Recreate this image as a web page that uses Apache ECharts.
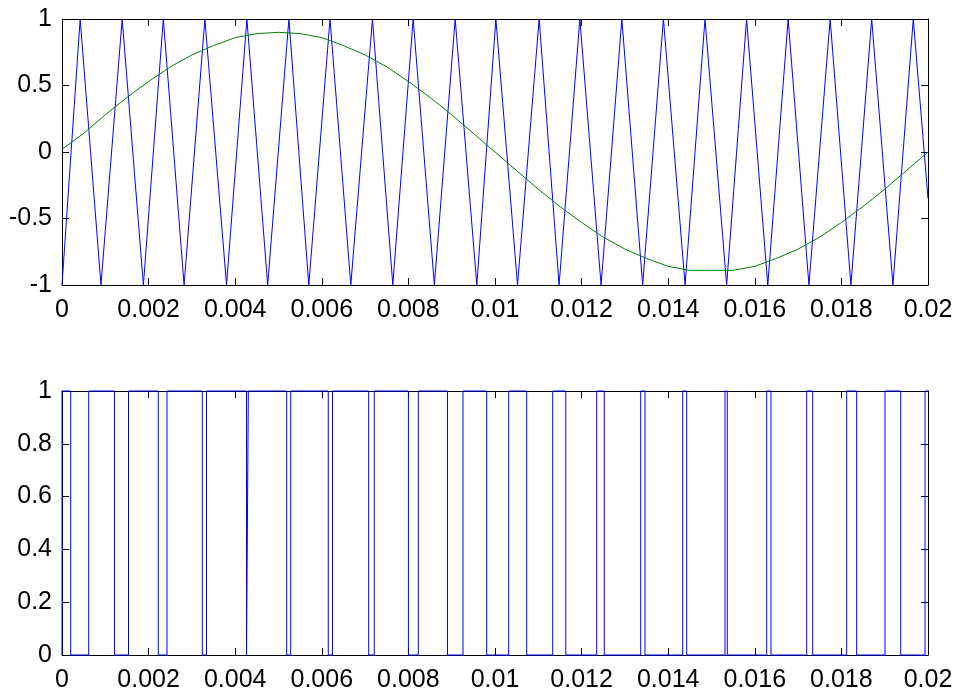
<!DOCTYPE html>
<html>
<head>
<meta charset="utf-8">
<script src="https://cdn.jsdelivr.net/npm/echarts@6/dist/echarts.min.js"></script>
<style>
  html, body { margin: 0; padding: 0; background: #fff; }
  #chart { width: 957px; height: 693px; }
</style>
</head>
<body>
<div id="chart"></div>
<script>
// carrier (triangle) vertices
const carrierT = [0, 0.00042, 0.00090, 0.00139, 0.00188, 0.00234, 0.00282, 0.00330, 0.00380, 0.00427,
  0.00475, 0.00524, 0.00570, 0.00619, 0.00667, 0.00717, 0.00764, 0.00811, 0.00860, 0.00908,
  0.00958, 0.01002, 0.01052, 0.01102, 0.01148, 0.01196, 0.01245, 0.01293, 0.01341, 0.01389,
  0.01439, 0.01485, 0.01535, 0.01581, 0.01630, 0.01677, 0.01725, 0.01774, 0.01822, 0.01870,
  0.01919, 0.01966, 0.02]
const carrierV = [-1, 1, -1, 1, -1, 1, -1, 1, -1, 1,
  -1, 1, -1, 1, -1, 1, -1, 1, -1, 1,
  -1, 1, -1, 1, -1, 1, -1, 1, -1, 1,
  -1, 1, -1, 1, -1, 1, -1, 1, -1, 1,
  -1, 1, -0.35]

// reference (green) curve, every 0.0005 s
const refT = [0, 0.0005, 0.001, 0.0015, 0.002, 0.0025, 0.003, 0.0035, 0.004, 0.0045,
  0.005, 0.0055, 0.006, 0.0065, 0.007, 0.0075, 0.008, 0.0085, 0.009, 0.0095,
  0.01, 0.0105, 0.011, 0.0115, 0.012, 0.0125, 0.013, 0.0135, 0.014, 0.0145,
  0.015, 0.0155, 0.016, 0.0165, 0.017, 0.0175, 0.018, 0.0185, 0.019, 0.0195, 0.02]
const refV = [0.02, 0.14, 0.28, 0.41, 0.53, 0.64, 0.73, 0.80, 0.86, 0.89,
  0.90, 0.89, 0.86, 0.80, 0.73, 0.64, 0.53, 0.41, 0.28, 0.14,
  0, -0.14, -0.28, -0.41, -0.53, -0.64, -0.73, -0.80, -0.86, -0.89,
  -0.89, -0.89, -0.86, -0.80, -0.73, -0.64, -0.53, -0.41, -0.28, -0.14, 0]

// PWM output: switching times and the level after each one
const pwmT = [0, 0, 0.000201, 0.000617, 0.001212, 0.001536, 0.002224, 0.002425, 0.003240, 0.003337,
  0.004261, 0.004303, 0.005189, 0.005282, 0.006150, 0.006247, 0.007083, 0.007212, 0.008000, 0.008229,
  0.008903, 0.009261, 0.009808, 0.010316, 0.010732, 0.011333, 0.011635, 0.012349, 0.012524, 0.013365,
  0.013464, 0.014335, 0.014427, 0.015312, 0.015365, 0.016275, 0.016374, 0.017199, 0.017337, 0.018122,
  0.018353, 0.019007, 0.019370, 0.019931, 0.02]
const pwmLevel = [0, 1, 0, 1, 0, 1, 0, 1, 0, 1,
  0, 1, 0, 1, 0, 1, 0, 1, 0, 1,
  0, 1, 0, 1, 0, 1, 0, 1, 0, 1,
  0, 1, 0, 1, 0, 1, 0, 1, 0, 1,
  0, 1, 0, 1, 1]

const font = 'Liberation Sans, Arial, sans-serif'
const fmt = v => String(parseFloat(v.toFixed(4)))

function zip(a, b) {
  return a.map((t, i) => [t, b[i]])
}

function xAx(grid, pos) {
  return {
    type: 'value', gridIndex: grid, position: pos,
    min: 0, max: 0.02, interval: 0.002,
    splitLine: { show: false },
    axisLine: { show: true, onZero: false, lineStyle: { color: '#000', width: 1 } },
    axisTick: { show: true, inside: true, length: 7, lineStyle: { color: '#000' } },
    axisLabel: {
      show: pos === 'bottom', color: '#000', fontFamily: font, fontSize: 25, margin: 13,
      showMinLabel: true, showMaxLabel: true, formatter: fmt
    }
  }
}
function yAx(grid, pos, min, max, step) {
  return {
    type: 'value', gridIndex: grid, position: pos,
    min: min, max: max, interval: step,
    splitLine: { show: false },
    axisLine: { show: true, onZero: false, lineStyle: { color: '#000', width: 1 } },
    axisTick: { show: true, inside: true, length: 7, lineStyle: { color: '#000' } },
    axisLabel: {
      show: pos === 'left', color: '#000', fontFamily: font, fontSize: 25, margin: 10,
      showMinLabel: true, showMaxLabel: true, formatter: fmt
    }
  }
}

const chart = echarts.init(document.getElementById('chart'))
chart.setOption({
  animation: false,
  backgroundColor: '#fff',
  grid: [
    { left: 62, right: 29, top: 19, height: 266 },
    { left: 62, right: 29, top: 391, height: 266 }
  ],
  xAxis: [xAx(0, 'bottom'), xAx(0, 'top'), xAx(1, 'bottom'), xAx(1, 'top')],
  yAxis: [yAx(0, 'left', -1, 1, 0.5), yAx(0, 'right', -1, 1, 0.5),
    yAx(1, 'left', 0, 1, 0.2), yAx(1, 'right', 0, 1, 0.2)],
  series: [
    {
      type: 'line', xAxisIndex: 0, yAxisIndex: 0, data: zip(carrierT, carrierV),
      showSymbol: false, clip: false, lineStyle: { color: '#0000ff', width: 1 }
    },
    {
      type: 'line', xAxisIndex: 0, yAxisIndex: 0, data: zip(refT, refV),
      showSymbol: false, clip: false, lineStyle: { color: '#008000', width: 1 }
    },
    {
      type: 'line', xAxisIndex: 2, yAxisIndex: 2, data: zip(pwmT, pwmLevel), step: 'end',
      showSymbol: false, clip: false, lineStyle: { color: '#0000ff', width: 1 }
    }
  ]
})
</script>
</body>
</html>
